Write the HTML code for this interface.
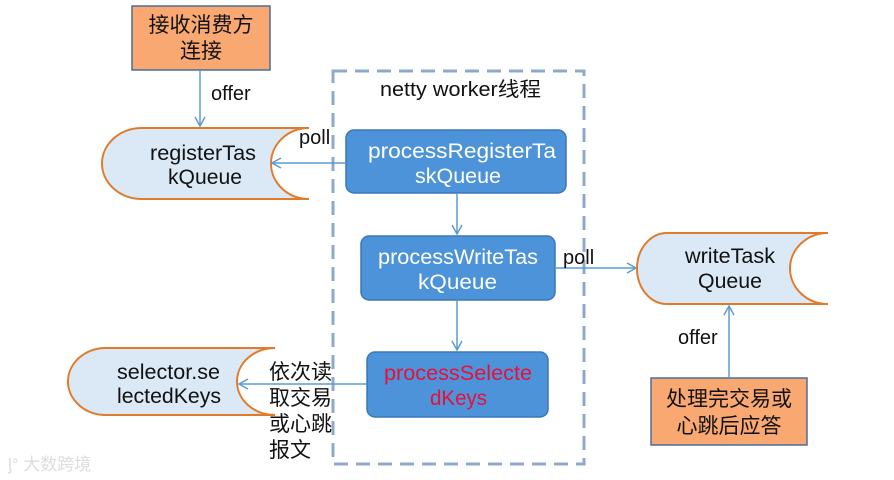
<!DOCTYPE html>
<html><head><meta charset="utf-8"><style>
html,body{margin:0;padding:0;background:#fff;width:894px;height:480px;overflow:hidden}
text{font-family:"Liberation Sans","Noto Sans CJK SC",sans-serif}
</style></head><body>
<svg width="894" height="480" viewBox="0 0 894 480" xmlns="http://www.w3.org/2000/svg">
<defs>
<marker id="ar" markerWidth="12" markerHeight="12" refX="10" refY="6" orient="auto" markerUnits="userSpaceOnUse">
<path d="M1,1 L10,6 L1,11" fill="none" stroke="#5b9bd5" stroke-width="1.5"/>
</marker>
</defs>
<rect x="333" y="71" width="251" height="393" fill="none" stroke="#8eaacb" stroke-width="3" stroke-dasharray="14,8"/>
<text x="380" y="96" font-size="20" textLength="161" lengthAdjust="spacingAndGlyphs" fill="#111">netty worker线程</text>

<rect x="132" y="6" width="138" height="64" fill="#f9a872" stroke="#4a6e9a" stroke-width="1.5"/>
<text x="201" y="32" font-size="21" text-anchor="middle" fill="#111">接收消费方</text>
<text x="201" y="58" font-size="21" text-anchor="middle" fill="#111">连接</text>
<rect x="651" y="378" width="156" height="67" fill="#f9a872" stroke="#4a6e9a" stroke-width="1.5"/>
<text x="729" y="406" font-size="21" text-anchor="middle" fill="#111">处理完交易或</text>
<text x="729" y="433" font-size="21" text-anchor="middle" fill="#111">心跳后应答</text>

<path d="M142,128 H309 A38,35.5 0 0 0 309,199 H142 A40,35.5 0 0 1 142,128 Z" fill="#dbe9f7" stroke="#e07b2a" stroke-width="2"/>
<text x="150" y="160" font-size="21" textLength="106" lengthAdjust="spacingAndGlyphs" fill="#111">registerTas</text>
<text x="168" y="184" font-size="21" textLength="74" lengthAdjust="spacingAndGlyphs" fill="#111">kQueue</text>
<path d="M667,233 H828 A38,35.5 0 0 0 828,304 H667 A30,35.5 0 0 1 667,233 Z" fill="#dbe9f7" stroke="#e07b2a" stroke-width="2"/>
<text x="685" y="263" font-size="21" textLength="90" lengthAdjust="spacingAndGlyphs" fill="#111">writeTask</text>
<text x="698" y="288" font-size="21" textLength="64" lengthAdjust="spacingAndGlyphs" fill="#111">Queue</text>
<path d="M106,348 H275 A38,33.5 0 0 0 275,415 H106 A38,33.5 0 0 1 106,348 Z" fill="#dbe9f7" stroke="#e07b2a" stroke-width="2"/>
<text x="117" y="379" font-size="21" textLength="103" lengthAdjust="spacingAndGlyphs" fill="#111">selector.se</text>
<text x="117" y="403" font-size="21" textLength="104" lengthAdjust="spacingAndGlyphs" fill="#111">lectedKeys</text>

<rect x="346" y="130" width="220" height="63" rx="8" fill="#4d93d9" stroke="#3b78b5" stroke-width="1.5"/>
<text x="368" y="158" font-size="21" textLength="188" lengthAdjust="spacingAndGlyphs" fill="#fff">processRegisterTa</text>
<text x="415" y="183" font-size="21" textLength="86" lengthAdjust="spacingAndGlyphs" fill="#fff">skQueue</text>
<rect x="361" y="236" width="194" height="64" rx="8" fill="#4d93d9" stroke="#3b78b5" stroke-width="1.5"/>
<text x="378" y="264" font-size="21" textLength="160" lengthAdjust="spacingAndGlyphs" fill="#fff">processWriteTas</text>
<text x="418" y="289" font-size="21" textLength="79" lengthAdjust="spacingAndGlyphs" fill="#fff">kQueue</text>
<rect x="367" y="352" width="181" height="65" rx="8" fill="#4d93d9" stroke="#3b78b5" stroke-width="1.5"/>
<text x="384" y="380" font-size="21" textLength="148" lengthAdjust="spacingAndGlyphs" fill="#e8103a">processSelecte</text>
<text x="430" y="405" font-size="21" textLength="57" lengthAdjust="spacingAndGlyphs" fill="#e8103a">dKeys</text>

<line x1="200" y1="70" x2="200" y2="126" stroke="#5b9bd5" stroke-width="1.5" marker-end="url(#ar)"/>
<text x="211" y="100" font-size="20" fill="#111">offer</text>
<line x1="346" y1="163" x2="272" y2="163" stroke="#5b9bd5" stroke-width="1.5" marker-end="url(#ar)"/>
<text x="299" y="144" font-size="20" fill="#111">poll</text>
<line x1="457" y1="193" x2="457" y2="234" stroke="#5b9bd5" stroke-width="1.5" marker-end="url(#ar)"/>
<line x1="555" y1="268" x2="636" y2="268" stroke="#5b9bd5" stroke-width="1.5" marker-end="url(#ar)"/>
<text x="563" y="264" font-size="20" fill="#111">poll</text>
<line x1="457" y1="300" x2="457" y2="350" stroke="#5b9bd5" stroke-width="1.5" marker-end="url(#ar)"/>
<line x1="367" y1="384" x2="239" y2="384" stroke="#5b9bd5" stroke-width="1.5" marker-end="url(#ar)"/>
<text x="269" y="379" font-size="21" fill="#111">依次读</text>
<text x="269" y="405" font-size="21" fill="#111">取交易</text>
<text x="269" y="431" font-size="21" fill="#111">或心跳</text>
<text x="269" y="457" font-size="21" fill="#111">报文</text>
<line x1="729" y1="378" x2="729" y2="306" stroke="#5b9bd5" stroke-width="1.5" marker-end="url(#ar)"/>
<text x="678" y="344" font-size="20" fill="#111">offer</text>

<text x="8" y="470" font-size="17" fill="#ddd">ᶅ° 大数跨境</text>
</svg>
</body></html>
